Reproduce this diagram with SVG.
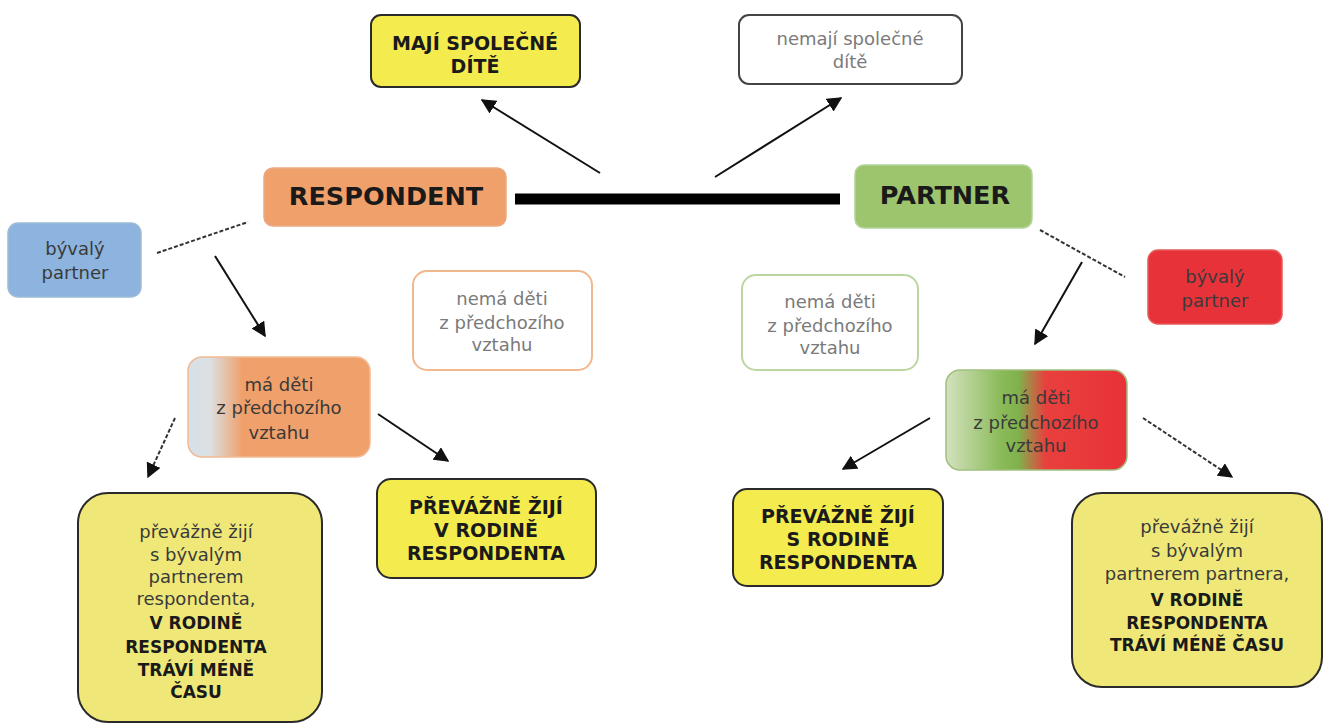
<svg xmlns="http://www.w3.org/2000/svg" width="1325" height="725" viewBox="0 0 1325 725">
<defs>
<style>
text{font-family:"DejaVu Sans","Liberation Sans",sans-serif;text-anchor:middle;}
.r{font-size:18px;fill:#3a3a3a;}
.g{font-size:18px;fill:#7a7a7a;}
.b{font-size:17px;font-weight:bold;fill:#1a1a1a;}
.bb{font-size:19px;font-weight:bold;fill:#1a1a1a;}
.t{font-size:25.5px;font-weight:bold;fill:#1a1a1a;}
.yb{fill:#F4EB4E;stroke:#2a2a2a;stroke-width:2;}
.yl{fill:#EFE878;stroke:#2a2a2a;stroke-width:2;}
.ln{stroke:#111;stroke-width:2;fill:none;}
.dl{stroke:#333;stroke-width:2;fill:none;stroke-dasharray:4 2;}
</style>
<marker id="ah" viewBox="0 0 10 10" refX="9" refY="5" markerWidth="7.5" markerHeight="7.5" markerUnits="strokeWidth" orient="auto">
<path d="M0,0 L10,5 L0,10 z" fill="#111"/>
</marker>
<linearGradient id="gl" x1="0" y1="0" x2="1" y2="0">
<stop offset="0" stop-color="#D6E0E8"/>
<stop offset="0.12" stop-color="#DCE0E2"/>
<stop offset="0.3" stop-color="#F0A06A"/>
<stop offset="1" stop-color="#F0A06A"/>
</linearGradient>
<linearGradient id="gr" x1="0" y1="0" x2="1" y2="0">
<stop offset="0" stop-color="#D2E2BE"/>
<stop offset="0.3" stop-color="#8CBB5A"/>
<stop offset="0.4" stop-color="#7FB24C"/>
<stop offset="0.55" stop-color="#E8403E"/>
<stop offset="1" stop-color="#E83238"/>
</linearGradient>
</defs>
<rect width="1325" height="725" fill="#fff"/>
<g id="connectors">
<line x1="515" y1="199" x2="840" y2="199" stroke="#000" stroke-width="11"/>
<line class="ln" x1="600" y1="173" x2="482" y2="100" marker-end="url(#ah)"/>
<line class="ln" x1="715" y1="177" x2="841" y2="98" marker-end="url(#ah)"/>
<line class="dl" x1="157" y1="253" x2="248" y2="222"/>
<line class="dl" x1="1040" y1="230" x2="1125" y2="277"/>
<line class="ln" x1="215" y1="256" x2="265" y2="336" marker-end="url(#ah)"/>
<line class="ln" x1="1082" y1="262" x2="1035" y2="344" marker-end="url(#ah)"/>
<line class="ln" x1="378" y1="414" x2="448" y2="461" marker-end="url(#ah)"/>
<line class="dl" x1="175" y1="418" x2="148" y2="477" marker-end="url(#ah)"/>
<line class="ln" x1="930" y1="418" x2="843" y2="469" marker-end="url(#ah)"/>
<line class="dl" x1="1143" y1="418" x2="1232" y2="477" marker-end="url(#ah)"/>
</g>
<g id="n-maji">
<rect class="yb" x="371" y="15" width="209" height="72" rx="10" stroke="#555"/>
<text class="bb" x="475" y="50">MAJÍ SPOLEČNÉ</text>
<text class="bb" x="475" y="73">DÍTĚ</text>
</g>
<g id="n-nemaji">
<rect x="739" y="15" width="223" height="69" rx="10" fill="#fff" stroke="#444" stroke-width="2"/>
<text class="g" x="850" y="45">nemají společné</text>
<text class="g" x="850" y="68">dítě</text>
</g>
<g id="n-respondent">
<rect x="264" y="168" width="242" height="58" rx="9" fill="#F0A06A" stroke="#EBA983" stroke-width="1.5"/>
<text class="t" x="386" y="205">RESPONDENT</text>
</g>
<g id="n-partner">
<rect x="855" y="165" width="177" height="63" rx="9" fill="#9DC56E" stroke="#B4D49A" stroke-width="1.5"/>
<text class="t" x="945" y="204">PARTNER</text>
</g>
<g id="n-byv-l">
<rect x="8" y="223" width="133" height="74" rx="10" fill="#8DB4DE" stroke="#9DBAD6" stroke-width="1.5"/>
<text class="r" x="75" y="255">bývalý</text>
<text class="r" x="75" y="279">partner</text>
</g>
<g id="n-byv-r">
<rect x="1148" y="250" width="134" height="74" rx="10" fill="#E8323A" stroke="#E65A5A" stroke-width="1.5"/>
<text class="r" x="1215" y="283">bývalý</text>
<text class="r" x="1215" y="307">partner</text>
</g>
<g id="n-nema-l">
<rect x="413" y="271" width="179" height="99" rx="14" fill="#fff" stroke="#F0B88E" stroke-width="2"/>
<text class="g" x="502" y="305">nemá děti</text>
<text class="g" x="502" y="329">z předchozího</text>
<text class="g" x="502" y="351">vztahu</text>
</g>
<g id="n-nema-r">
<rect x="742" y="275" width="176" height="95" rx="14" fill="#fff" stroke="#BCD6A2" stroke-width="2"/>
<text class="g" x="830" y="308">nemá děti</text>
<text class="g" x="830" y="332">z předchozího</text>
<text class="g" x="830" y="354">vztahu</text>
</g>
<g id="n-ma-l">
<rect x="188" y="357" width="182" height="100" rx="14" fill="url(#gl)" stroke="#F2BA94" stroke-width="1.5"/>
<text class="r" x="279" y="391">má děti</text>
<text class="r" x="279" y="414">z předchozího</text>
<text class="r" x="279" y="439">vztahu</text>
</g>
<g id="n-ma-r">
<rect x="946" y="370" width="181" height="100" rx="14" fill="url(#gr)" stroke="#9FC07E" stroke-width="1.5"/>
<text class="r" x="1036" y="404">má děti</text>
<text class="r" x="1036" y="429">z předchozího</text>
<text class="r" x="1036" y="452">vztahu</text>
</g>
<g id="n-big-l">
<rect class="yl" x="78" y="493" width="244" height="229" rx="30"/>
<text class="r" x="196" y="538">převážně žijí</text>
<text class="r" x="196" y="561">s bývalým</text>
<text class="r" x="196" y="583">partnerem</text>
<text class="r" x="196" y="605">respondenta,</text>
<text class="b" x="196" y="629">V RODINĚ</text>
<text class="b" x="196" y="653">RESPONDENTA</text>
<text class="b" x="196" y="676">TRÁVÍ MÉNĚ</text>
<text class="b" x="196" y="698">ČASU</text>
</g>
<g id="n-prev-l">
<rect class="yb" x="377" y="479" width="219" height="99" rx="14"/>
<text class="bb" x="486" y="514">PŘEVÁŽNĚ ŽIJÍ</text>
<text class="bb" x="486" y="537">V RODINĚ</text>
<text class="bb" x="486" y="560">RESPONDENTA</text>
</g>
<g id="n-prev-r">
<rect class="yb" x="733" y="489" width="210" height="97" rx="14"/>
<text class="bb" x="838" y="523">PŘEVÁŽNĚ ŽIJÍ</text>
<text class="bb" x="838" y="546">S RODINĚ</text>
<text class="bb" x="838" y="569">RESPONDENTA</text>
</g>
<g id="n-big-r">
<rect class="yl" x="1072" y="493" width="250" height="194" rx="30"/>
<text class="r" x="1197" y="533">převážně žijí</text>
<text class="r" x="1197" y="557">s bývalým</text>
<text class="r" x="1197" y="580">partnerem partnera,</text>
<text class="b" x="1197" y="606">V RODINĚ</text>
<text class="b" x="1197" y="629">RESPONDENTA</text>
<text class="b" x="1197" y="651">TRÁVÍ MÉNĚ ČASU</text>
</g>
</svg>
